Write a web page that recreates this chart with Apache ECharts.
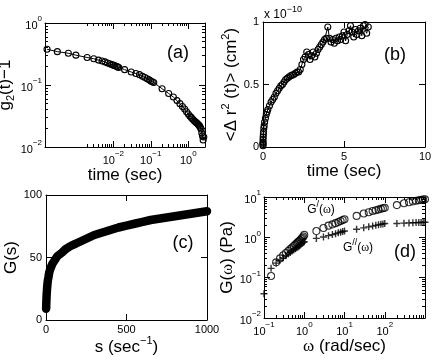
<!DOCTYPE html>
<html>
<head>
<meta charset="utf-8">
<script src="https://cdn.jsdelivr.net/npm/echarts@6/dist/echarts.min.js"></script>
<style>
  html, body { margin: 0; padding: 0; background: #fff; }
  #chart { width: 436px; height: 362px; }
</style>
</head>
<body>
<div id="chart"></div>
<script>
// (a) g2(t)-1 against delay time
const aTime = [1.7e-4, 3.2e-4, 6.3e-4,
  0.001, 0.002, 0.003, 0.004, 0.005, 0.006, 0.007, 0.008, 0.009, 0.010, 0.011, 0.012, 0.013, 0.014,
  0.02, 0.03, 0.04, 0.05, 0.06, 0.07, 0.08, 0.09, 0.10, 0.11, 0.12,
  0.2, 0.3, 0.4, 0.5, 0.6, 0.7, 0.8, 0.9, 1.0, 1.1, 1.2, 1.3, 1.4, 1.5, 1.6, 1.7, 1.8, 1.9, 2.0, 2.1, 2.2, 2.3, 2.4, 2.5, 2.6];
const aG2 = [0.377, 0.345, 0.325,
  0.303, 0.278, 0.265, 0.252, 0.244, 0.236, 0.227, 0.220, 0.214, 0.209, 0.204, 0.200, 0.196, 0.192,
  0.177, 0.162, 0.153, 0.147, 0.138, 0.132, 0.126, 0.121, 0.116, 0.113, 0.110,
  0.087, 0.073, 0.064, 0.056, 0.050, 0.045, 0.041, 0.037, 0.034, 0.0316, 0.030, 0.0283, 0.027, 0.026, 0.025, 0.0244, 0.0235, 0.0226, 0.0219, 0.0207, 0.0195, 0.0168, 0.0151, 0.013, 0.0145];

// (b) mean square displacement, in units of 1e-10 cm^2
const bTime = [0.0002, 0.0005, 0.001, 0.002, 0.005, 0.01, 0.02, 0.03, 0.05, 0.07, 0.1, 0.15, 0.2, 0.25, 0.3,
  0.4, 0.5, 0.6, 0.7, 0.8, 0.9, 1.0, 1.1, 1.2, 1.3, 1.4, 1.5, 1.6, 1.7, 1.8, 1.9, 2.0,
  2.1, 2.2, 2.3, 2.4, 2.5, 2.6, 2.7, 2.8, 2.9, 3.0, 3.1, 3.2, 3.3, 3.4, 3.5, 3.6, 3.7, 3.8, 3.9, 4.0,
  4.1, 4.2, 4.3, 4.4, 4.5, 4.6, 4.7, 4.8, 4.9, 5.0, 5.1, 5.2, 5.3, 5.4, 5.5, 5.6, 5.7, 5.8, 5.9, 6.0,
  6.1, 6.2, 6.3, 6.4, 6.5];
const bMsd = [0.01, 0.02, 0.03, 0.04, 0.06, 0.08, 0.10, 0.12, 0.15, 0.17, 0.20, 0.23, 0.26, 0.28, 0.30,
  0.33, 0.36, 0.38, 0.40, 0.43, 0.45, 0.47, 0.49, 0.50, 0.52, 0.54, 0.55, 0.56, 0.57, 0.575, 0.58, 0.59,
  0.60, 0.60, 0.62, 0.66, 0.70, 0.72, 0.76, 0.74, 0.70, 0.73, 0.76, 0.72, 0.75, 0.78, 0.80, 0.82, 0.84, 0.86, 0.87, 0.96,
  0.87, 0.84, 0.86, 0.83, 0.87, 0.85, 0.88, 0.86, 0.89, 0.92, 0.85, 0.90, 0.93, 0.97, 0.92, 0.88, 0.94, 0.90, 0.93, 0.95,
  0.89, 0.97, 0.98, 0.91, 0.96];

// (c) G(s)
const cS = [1, 2, 3, 4, 5, 7, 8, 10, 12, 15, 20, 25, 30, 40, 50, 60, 70, 80, 100, 120, 150, 175, 200, 250, 300, 350, 400, 450,
  500, 550, 600, 650, 700, 750, 800, 850, 900, 950, 1000];
const cG = [9, 14, 17, 20, 22, 26, 27.5, 30, 32, 34, 38, 40, 42, 45, 47, 49, 51, 52, 54, 56.5, 59, 60.5, 62, 65, 68, 70, 72, 74,
  75.5, 77, 78.5, 80, 81, 82, 83, 84, 85, 86, 87];

// (d) G'(w) and G''(w)
const dOmegaStorage = [0.15, 0.2, 0.25, 0.3, 0.35, 0.4, 0.45, 0.5, 0.55, 0.6, 0.65, 0.7, 0.75, 0.8, 0.85, 0.9, 0.95, 1.0,
  2, 3, 4, 5, 6, 7, 8, 9, 10, 20, 30, 40, 50, 60, 70, 80, 90, 100,
  200, 300, 400, 500, 600, 700, 800, 900, 1000];
const dStorage = [0.11, 0.24, 0.30, 0.36, 0.41, 0.46, 0.51, 0.56, 0.61, 0.66, 0.71, 0.76, 0.81, 0.86, 0.92, 0.98, 1.05, 1.15,
  1.43, 1.7, 1.95, 2.1, 2.25, 2.4, 2.55, 2.7, 2.8, 3.4, 3.9, 4.2, 4.5, 4.7, 4.9, 5.1, 5.25, 5.4,
  6.3, 7.0, 7.4, 7.8, 8.1, 8.3, 8.5, 8.7, 8.8];
const dOmegaLoss = [0.1, 0.15, 0.2, 0.25, 0.3, 0.35, 0.4, 0.45, 0.5, 0.55, 0.6, 0.65, 0.7, 0.75, 0.8, 0.85, 0.9, 0.95, 1.0,
  2, 3, 4, 5, 6, 7, 8, 9, 10, 20, 30, 40, 50, 60, 70, 80, 90, 100,
  200, 300, 400, 500, 600, 700, 800, 900, 1000];
const dLoss = [0.04, 0.17, 0.23, 0.27, 0.31, 0.35, 0.39, 0.42, 0.46, 0.49, 0.52, 0.55, 0.58, 0.61, 0.65, 0.69, 0.72, 0.75, 0.78,
  0.94, 1.02, 1.1, 1.17, 1.23, 1.29, 1.34, 1.39, 1.43, 1.58, 1.72, 1.82, 1.9, 1.98, 2.04, 2.1, 2.15, 2.2,
  2.2, 2.25, 2.28, 2.3, 2.32, 2.33, 2.34, 2.35, 2.36];

// tick labels
const aXLabels = [0.01, 0.1, 1];
const aYLabels = [0.01, 0.1, 1];
const dXLabels = [0.1, 1, 10, 100];
const dYLabels = [0.01, 0.1, 1, 10];

const FONT = '"Liberation Sans", Arial, sans-serif';
const SERIF = '"Liberation Serif", "DejaVu Serif", serif';

// ticks at 2..9 inside each decade
function minorTicks(lo, hi) {
  const out = [];
  for (let e = lo; e <= hi; e++) {
    for (let k = 2; k <= 9; k++) out.push(k * Math.pow(10, e));
  }
  return out;
}

function powLabel(v) {
  const e = Math.round(Math.log10(v));
  return '{b|10}{s|' + (e < 0 ? '\u2212' + (-e) : e) + '}';
}
const powRich = {
  b: { fontSize: 11, fontFamily: FONT, color: '#000', lineHeight: 16, verticalAlign: 'bottom' },
  s: { fontSize: 8, fontFamily: FONT, color: '#000', lineHeight: 9, verticalAlign: 'top' }
};
const nameRich = {
  t: { fontSize: 17, fontFamily: FONT, fontWeight: 'normal', color: '#000', lineHeight: 22 },
  w: { fontSize: 17, fontFamily: SERIF, fontWeight: 'normal', color: '#000', lineHeight: 22 },
  sup: { fontSize: 11, fontFamily: FONT, fontWeight: 'normal', color: '#000', lineHeight: 11, verticalAlign: 'top' },
  sub: { fontSize: 11, fontFamily: FONT, fontWeight: 'normal', color: '#000', lineHeight: 11, verticalAlign: 'bottom' }
};
const nameStyle = { fontSize: 17, fontFamily: FONT, fontWeight: 'normal', color: '#000', rich: nameRich };

const axisLine = { show: true, onZero: false, lineStyle: { color: '#000', width: 1 } };

function axisBase(grid, type, pos, min, max, showLine) {
  return {
    gridIndex: grid, type: type, position: pos, min: min, max: max,
    axisLine: showLine ? axisLine : { show: false },
    splitLine: { show: false },
    axisTick: { show: false },
    axisLabel: { show: false },
    silent: true
  };
}
function tickStyle(values, len) {
  return { show: true, inside: true, length: len, customValues: values, lineStyle: { color: '#000', width: 1 } };
}

// returns [main, minor, mirror, mirrorMinor]
function logAxes(grid, side, opp, min, max, labels, majors, minors, name, gap, rotate) {
  const main = axisBase(grid, 'log', side, min, max, true);
  main.axisTick = tickStyle(majors, 6);
  main.axisLabel = { show: true, customValues: labels, formatter: powLabel, margin: 3, rich: powRich, color: '#000' };
  main.name = name;
  main.nameLocation = 'middle';
  main.nameGap = gap;
  main.nameRotate = rotate;
  main.nameTextStyle = nameStyle;
  const minor = axisBase(grid, 'log', side, min, max, false);
  minor.axisTick = tickStyle(minors, 3);
  const mirror = axisBase(grid, 'log', opp, min, max, true);
  mirror.axisTick = tickStyle(majors, 6);
  const mirrorMinor = axisBase(grid, 'log', opp, min, max, false);
  mirrorMinor.axisTick = tickStyle(minors, 3);
  return [main, minor, mirror, mirrorMinor];
}

function linAxes(grid, side, opp, min, max, interval, name, gap, rotate) {
  const main = axisBase(grid, 'value', side, min, max, true);
  main.interval = interval;
  main.axisTick = { show: true, inside: true, length: 6, lineStyle: { color: '#000', width: 1 } };
  main.axisLabel = { show: true, margin: 4, fontSize: 11, fontFamily: FONT, color: '#000', formatter: v => String(v) };
  main.name = name;
  main.nameLocation = 'middle';
  main.nameGap = gap;
  main.nameRotate = rotate;
  main.nameTextStyle = nameStyle;
  const mirror = axisBase(grid, 'value', opp, min, max, true);
  mirror.interval = interval;
  mirror.axisTick = { show: true, inside: true, length: 6, lineStyle: { color: '#000', width: 1 } };
  return [main, mirror];
}

const xAxes = [];
const yAxes = [];
function push(list, axes) { const i = list.length; axes.forEach(a => list.push(a)); return i; }

const ax = push(xAxes, logAxes(0, 'bottom', 'top', 1.5e-4, 2.8, aXLabels, [0.01, 0.1, 1], minorTicks(-3, -1),
  '{t|time (sec)}', 12, 0));
const ay = push(yAxes, logAxes(0, 'left', 'right', 0.01, 1, aYLabels, [0.01, 0.1, 1], minorTicks(-2, -1),
  '{t|g}{sub|2}{t|(t)\u22121}', 22, 90));
const bx = push(xAxes, linAxes(1, 'bottom', 'top', 0, 10, 5, '{t|time (sec)}', 12, 0));
const by = push(yAxes, linAxes(1, 'left', 'right', 0, 1, 0.5,
  '{t|<\u0394 r}{sup|2}{t| (t)> (cm}{sup|2}{t|)}', 20, 90));
const cx = push(xAxes, linAxes(2, 'bottom', 'top', 0, 1000, 500, '{t|s (sec}{sup|\u22121}{t|)}', 14, 0));
const cy = push(yAxes, linAxes(2, 'left', 'right', 0, 100, 50, '{t|G(s)}', 24, 90));
const dx = push(xAxes, logAxes(3, 'bottom', 'top', 0.1, 1000, dXLabels, [0.1, 1, 10, 100, 1000], minorTicks(-1, 2),
  '{w|\u03c9}{t| (rad/sec)}', 14, 0));
const dy = push(yAxes, logAxes(3, 'left', 'right', 0.01, 10, dYLabels, [0.01, 0.1, 1, 10], minorTicks(-2, 0),
  '{t|G(}{w|\u03c9}{t|) (Pa)}', 22, 90));

function pairs(xs, ys) { return xs.map((x, i) => [x, ys[i]]); }

const openCircle = { color: 'rgba(0,0,0,0)', borderColor: '#000', borderWidth: 1.1 };
const plusPath = 'path://M4,0L6,0L6,4L10,4L10,6L6,6L6,10L4,10L4,6L0,6L0,4L4,4Z';

function label(text, x, y) {
  return { type: 'text', x: x, y: y, style: { text: text, font: '18px ' + FONT, fill: '#000', textAlign: 'center', textVerticalAlign: 'middle' } };
}
const smallRich = {
  b: { fontSize: 12, fontFamily: FONT, fill: '#000', lineHeight: 16, verticalAlign: 'bottom' },
  w: { fontSize: 12, fontFamily: SERIF, fill: '#000', lineHeight: 16, verticalAlign: 'bottom' },
  s: { fontSize: 9, fontFamily: FONT, fill: '#000', lineHeight: 10, verticalAlign: 'top' }
};

const option = {
  animation: false,
  backgroundColor: '#fff',
  grid: [
    { left: 45, top: 23, width: 160, height: 124, outerBoundsMode: 'none' },
    { left: 263, top: 22, width: 162, height: 125, outerBoundsMode: 'none' },
    { left: 46, top: 195, width: 161, height: 125, outerBoundsMode: 'none' },
    { left: 264, top: 197, width: 161, height: 121, outerBoundsMode: 'none' }
  ],
  xAxis: xAxes,
  yAxis: yAxes,
  series: [
    {
      type: 'line', xAxisIndex: ax, yAxisIndex: ay, data: pairs(aTime, aG2),
      symbol: 'circle', symbolSize: 6, itemStyle: openCircle,
      lineStyle: { color: '#000', width: 1 }, silent: true
    },
    {
      type: 'line', xAxisIndex: bx, yAxisIndex: by, data: pairs(bTime, bMsd),
      symbol: 'circle', symbolSize: 6, itemStyle: openCircle,
      lineStyle: { color: '#000', width: 1 }, silent: true
    },
    {
      type: 'line', xAxisIndex: cx, yAxisIndex: cy, data: pairs(cS, cG),
      showSymbol: false, smooth: false,
      lineStyle: { color: '#000', width: 8.5, cap: 'round', join: 'round' }, silent: true
    },
    {
      type: 'scatter', xAxisIndex: dx, yAxisIndex: dy, data: pairs(dOmegaStorage, dStorage),
      symbol: 'circle', symbolSize: 7, itemStyle: openCircle, silent: true
    },
    {
      type: 'scatter', xAxisIndex: dx, yAxisIndex: dy, data: pairs(dOmegaLoss, dLoss),
      symbol: plusPath, symbolSize: 7, itemStyle: { color: '#000' }, silent: true
    }
  ],
  graphic: [
    label('(a)', 178, 53),
    label('(b)', 395, 55),
    label('(c)', 183, 243),
    label('(d)', 405, 252),
    {
      type: 'text', x: 264, y: 13,
      style: { text: '{b|x 10}{s|\u221210}', textAlign: 'left', textVerticalAlign: 'middle', rich: smallRich }
    },
    {
      type: 'text', x: 321, y: 208,
      style: { text: '{b|G}{s|/}{b|(}{w|\u03c9}{b|)}', textAlign: 'center', textVerticalAlign: 'middle', rich: smallRich }
    },
    {
      type: 'text', x: 358, y: 246,
      style: { text: '{b|G}{s|//}{b|(}{w|\u03c9}{b|)}', textAlign: 'center', textVerticalAlign: 'middle', rich: smallRich }
    }
  ]
};

const chart = echarts.init(document.getElementById('chart'), null, { renderer: 'canvas' });
chart.setOption(option);
</script>
</body>
</html>
